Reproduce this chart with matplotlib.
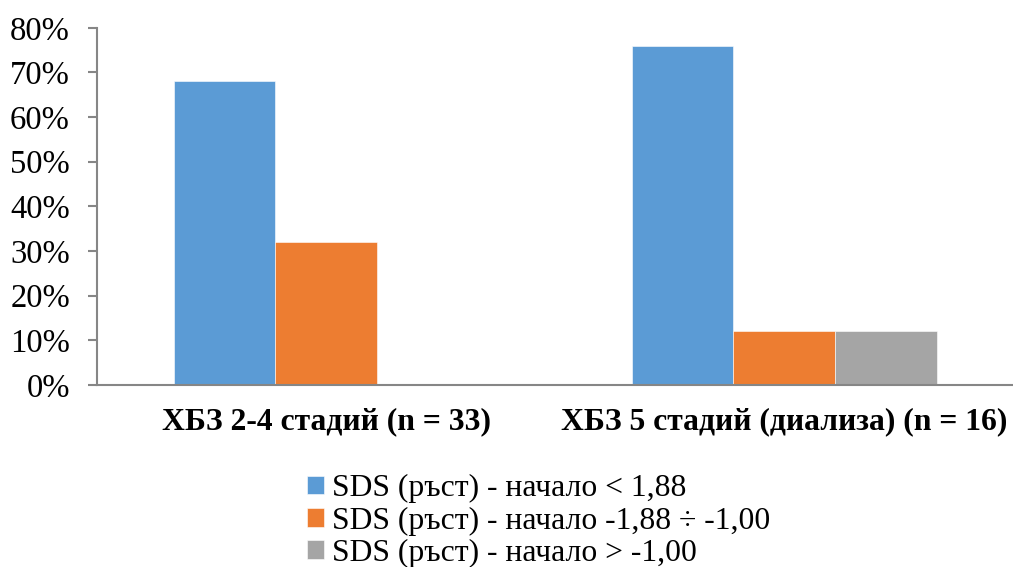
import numpy as np
import matplotlib.pyplot as plt
from matplotlib.ticker import PercentFormatter

plt.rcParams["font.family"] = ["Liberation Serif", "DejaVu Serif"]

# данни
categories = ["ХБЗ 2-4 стадий (n = 33)", "ХБЗ 5 стадий (диализа) (n = 16)"]
series = [
    "SDS (ръст) - начало < 1,88",
    "SDS (ръст) - начало -1,88 ÷ -1,00",
    "SDS (ръст) - начало > -1,00",
]
values = [
    [68, 76],
    [32, 12],
    [0, 12],
]
colors = ["#5B9BD5", "#ED7D31", "#A5A5A5"]

fig = plt.figure(figsize=(10.13, 5.67), dpi=100)
ax = fig.add_axes([0.0958, 0.321, 0.9042, 0.630])

x = np.arange(len(categories))
width = 0.222
for i, (name, vals, c) in enumerate(zip(series, values, colors)):
    ax.bar(x + (i - 1) * width, vals, width, color=c, label=name,
           edgecolor="white", linewidth=0.4)

ax.set_xlim(-0.5, 1.5)
ax.set_ylim(0, 80)
ax.set_yticks(np.arange(0, 81, 10))
ax.yaxis.set_major_formatter(PercentFormatter(decimals=0))
ax.set_xticks(x)
ax.set_xticklabels(categories, fontsize=22.8, fontweight="bold")

for s in ["top", "right"]:
    ax.spines[s].set_visible(False)
for s in ["left", "bottom"]:
    ax.spines[s].set_color("#868686")
    ax.spines[s].set_linewidth(1.5)

ax.tick_params(axis="y", labelsize=23.5, length=6.5, width=1.5, color="#868686", pad=13)
ax.tick_params(axis="x", length=0, pad=16)

# легенда под графиката
ax.legend(loc="center left", bbox_to_anchor=(0.303, 0.081), bbox_transform=fig.transFigure,
          frameon=False, fontsize=22.8, handlelength=0.53, handleheight=0.53,
          handletextpad=0.25, labelspacing=0.1, borderaxespad=0, borderpad=0)

fig.savefig("out.png", dpi=100)
